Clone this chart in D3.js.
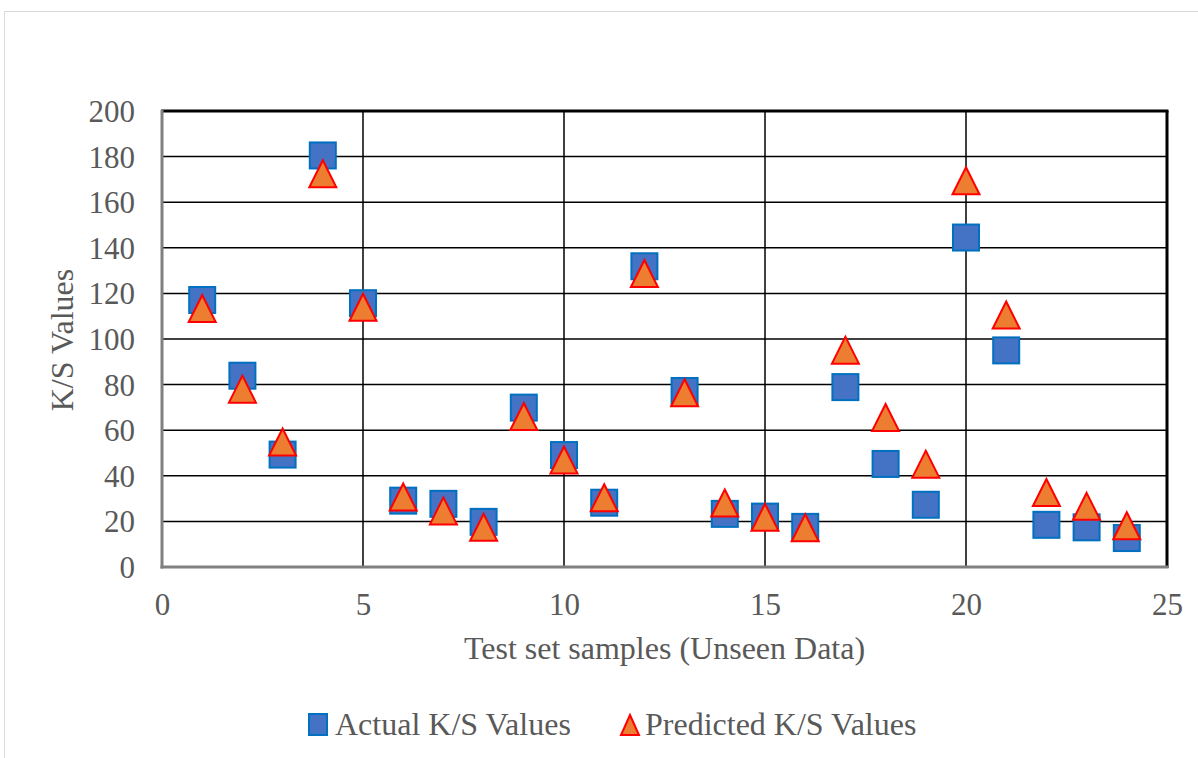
<!DOCTYPE html>
<html>
<head>
<meta charset="utf-8">
<script src="https://cdn.jsdelivr.net/npm/d3@7"></script>
<style>
  html, body { margin: 0; padding: 0; background: #fff; }
  svg { display: block; }
  svg text { font-family: "Liberation Serif", "Times New Roman", serif !important; fill: #595959; }
</style>
</head>
<body>
<svg id="chart" width="1198" height="758"></svg>
<script>
const samples = [1,2,3,4,5,6,7,8,9,10,11,12,13,14,15,16,17,18,19,20,21,22,23,24];
const actualValues = [117.1, 83.9, 49.3, 180.5, 115.7, 29.1, 27.7, 19.8, 69.9, 49.1, 28.2, 131.9, 77.2, 23.3, 22.1, 17.6, 78.9, 45.2, 27.3, 144.5, 95.0, 18.5, 17.4, 12.7];
const predictedValues = [113.4, 78.0, 54.8, 172.5, 113.9, 30.7, 24.6, 17.4, 66.0, 46.9, 30.4, 128.7, 76.4, 28.1, 21.8, 17.2, 95.1, 65.6, 45.1, 169.4, 110.5, 32.7, 26.6, 18.1];
const xTicks = [0, 5, 10, 15, 20, 25];
const yTicks = [0, 20, 40, 60, 80, 100, 120, 140, 160, 180, 200];
const seriesNames = ["Actual K/S Values", "Predicted K/S Values"];
const xTitle = "Test set samples (Unseen Data)";
const yTitle = "K/S Values";

const svg = d3.select("#chart");
const L = 162, R = 1167, T = 111, B = 567;
const x = d3.scaleLinear().domain([0, 25]).range([L, R]);
const y = d3.scaleLinear().domain([0, 200]).range([B, T]);
const serif = "'Liberation Serif', 'Times New Roman', serif";

// outer chart border
svg.append("rect").attr("x", 4.5).attr("y", 11.5).attr("width", 1210).attr("height", 800)
  .attr("fill", "none").attr("stroke", "#d9d9d9").attr("stroke-width", 1);

// gridlines
svg.append("g").selectAll("line").data(yTicks.filter(d => d > 0 && d < 200)).join("line")
  .attr("x1", L).attr("x2", R).attr("y1", d => y(d)).attr("y2", d => y(d))
  .attr("stroke", "#000").attr("stroke-width", 1.5);
svg.append("g").selectAll("line").data(xTicks.filter(d => d > 0 && d < 25)).join("line")
  .attr("y1", T).attr("y2", B).attr("x1", d => x(d)).attr("x2", d => x(d))
  .attr("stroke", "#000").attr("stroke-width", 1.5);

// plot border: top/right black, left/bottom grey axis lines
svg.append("line").attr("x1", L - 1).attr("x2", R + 1.5).attr("y1", T).attr("y2", T).attr("stroke", "#000").attr("stroke-width", 3);
svg.append("line").attr("x1", R).attr("x2", R).attr("y1", T).attr("y2", B + 1).attr("stroke", "#000").attr("stroke-width", 3);
svg.append("line").attr("x1", L).attr("x2", L).attr("y1", T - 1).attr("y2", B + 1.5).attr("stroke", "#808080").attr("stroke-width", 3);
svg.append("line").attr("x1", L - 1.5).attr("x2", R + 1.5).attr("y1", B).attr("y2", B).attr("stroke", "#808080").attr("stroke-width", 3);

// axes tick labels (via d3 axes, then styled)
const yAxis = svg.append("g").attr("transform", `translate(${L - 27},0)`)
  .call(d3.axisLeft(y).tickValues(yTicks).tickSize(0).tickPadding(0));
yAxis.attr("font-family", null).attr("font-size", null);
yAxis.select(".domain").remove();
yAxis.selectAll("text").style("font-size", "31px").style("fill", "#595959")
  .style("font-family", serif).attr("dy", "0.34em");

const xAxis = svg.append("g").attr("transform", `translate(0,${B + 48})`)
  .call(d3.axisBottom(x).tickValues(xTicks).tickSize(0).tickPadding(0));
xAxis.attr("font-family", null).attr("font-size", null);
xAxis.select(".domain").remove();
xAxis.selectAll("text").style("font-size", "31px").style("fill", "#595959")
  .style("font-family", serif).attr("dy", "0");

// axis titles
svg.append("text").attr("x", (L + R) / 2).attr("y", 659).attr("text-anchor", "middle")
  .style("font-size", "32px").text(xTitle);
svg.append("text").attr("transform", `translate(73,${(T + B) / 2 + 1}) rotate(-90)`)
  .attr("text-anchor", "middle").style("font-size", "32px").text(yTitle);

// markers
const sq = 26, tw = 27, th = 27;
const triPath = (w, h) => `M0,${-h / 2}L${w / 2},${h / 2}L${-w / 2},${h / 2}Z`;

svg.append("g").selectAll("rect").data(samples.map((s, i) => [s, actualValues[i]])).join("rect")
  .attr("x", d => x(d[0]) - sq / 2).attr("y", d => y(d[1]) - sq / 2)
  .attr("width", sq).attr("height", sq)
  .attr("fill", "#4472C4").attr("stroke", "#0070C0").attr("stroke-width", 2);

svg.append("g").selectAll("path").data(samples.map((s, i) => [s, predictedValues[i]])).join("path")
  .attr("transform", d => `translate(${x(d[0])},${y(d[1])})`)
  .attr("d", triPath(tw, th))
  .attr("fill", "#ED7D31").attr("stroke", "#FF0000").attr("stroke-width", 2);

// legend
const lg = svg.append("g");
lg.append("rect").attr("x", 309).attr("y", 714).attr("width", 18).attr("height", 21)
  .attr("fill", "#4472C4").attr("stroke", "#0070C0").attr("stroke-width", 2);
lg.append("text").attr("x", 335).attr("y", 735).style("font-size", "32px").text(seriesNames[0]);
lg.append("path").attr("transform", "translate(630,725)").attr("d", triPath(18, 20))
  .attr("fill", "#ED7D31").attr("stroke", "#FF0000").attr("stroke-width", 2);
lg.append("text").attr("x", 645).attr("y", 735).style("font-size", "32px").text(seriesNames[1]);
</script>
</body>
</html>
